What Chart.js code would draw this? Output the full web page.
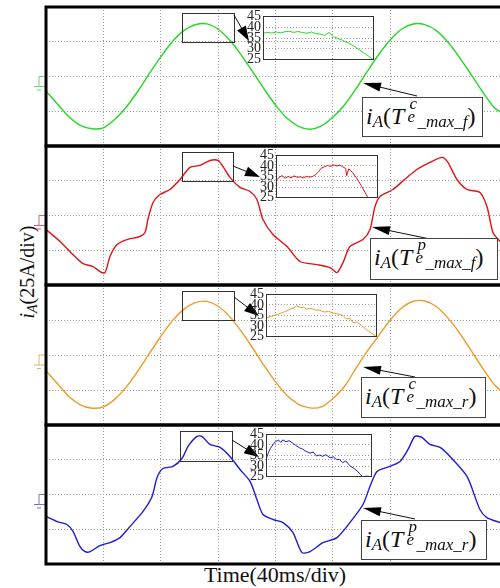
<!DOCTYPE html>
<html>
<head>
<meta charset="utf-8">
<script src="https://cdn.jsdelivr.net/npm/chart.js@4.4.1/dist/chart.umd.min.js"></script>
<style>
body{margin:0;background:#fff}
#fig{position:relative;width:500px;height:588px;overflow:hidden;font-family:"Liberation Serif","Times New Roman",serif}
#fig canvas{position:absolute}
.lab{position:absolute;box-sizing:border-box;border:1px solid #444;background:#fff;font-size:24px;line-height:24px;padding:6px 0 0 3px;white-space:nowrap;color:#111}
.lab .sb{font-size:17px;position:relative;top:3px}
.lab .stk{display:inline-block;position:relative;width:13px;height:0}
.lab .stk i{position:absolute;font-size:17px;line-height:17px}
.lab .stk .u{left:5px;bottom:12px}
.lab .stk .d{left:3px;bottom:-1px}
#ytitle{position:absolute;width:140px;height:24px;left:-43px;top:260px;text-align:center;font-size:20px;line-height:24px;transform:rotate(-90deg);color:#111}
#ytitle sub{font-size:14px;vertical-align:-3px}
#xtitle{position:absolute;left:150px;width:250px;top:563px;text-align:center;font-size:22px;line-height:24px;color:#111}
</style>
</head>
<body>
<div id="fig">
  <div id="ytitle"><i>i</i><sub><i>A</i></sub>(25A/div)</div>
  <div id="xtitle">Time(40ms/div)</div>
</div>
<script>
// time (ms) for the smooth traces, 40 ms per div
const tSmooth = [0, 8, 16, 24, 32, 40, 48, 56, 64, 72, 80, 88, 96, 104, 112, 120, 128, 136, 144, 152,
  160, 168, 176, 184, 192, 200, 208, 216, 224, 232, 240, 248, 256, 264, 272, 280, 288, 296, 304, 312, 316.4];

// iA with Te^c_max_f (A)
const iGreen = [-10.5, -19.8, -29.0, -35.2, -37.6, -36.9, -30.8, -21.9, -10.6, 2.0, 14.1, 25.0, 33.0, 37.2, 37.9, 34.0, 26.2, 15.6, 3.5, -9.0,
  -20.6, -30.1, -35.8, -37.9, -35.6, -29.2, -20.5, -8.9, 3.8, 16.0, 26.4, 34.2, 37.8, 37.3, 33.0, 24.8, 14.0, 1.8, -10.6, -22.0, -25.5];

// iA with Te^c_max_r (A)
const iOrange = [-11.2, -20.5, -29.6, -35.6, -38.0, -37.0, -31.5, -22.8, -11.5, 1.0, 13.2, 24.4, 32.6, 37.4, 38.3, 34.8, 27.4, 17.0, 5.0, -7.6,
  -19.2, -29.0, -35.2, -37.8, -37.0, -31.0, -22.5, -9.5, 3.0, 14.0, 25.2, 33.8, 38.4, 38.6, 34.6, 26.5, 16.0, 3.6, -9.0, -20.6, -24.8];

// iA with Te^p_max_f
const tRed = [0, 9.8, 18.8, 25.8, 32.8, 37.6, 41.1, 44.6, 49.5, 56.4, 65.5, 69, 71, 74.6, 79.4, 86.4, 93.4, 100.3, 107.3, 114.3,
  119.9, 123.3, 128.2, 135.2, 142.2, 147, 151.2, 158.2, 168, 177, 188.9, 197.9, 202.8, 207, 211.8, 220.9, 225.8, 229.3, 232.8, 241.8,
  251.6, 258.5, 267.6, 276, 280.1, 286.4, 293.4, 302.4, 307.3, 311.5, 316.4];
const iRed = [-10.1, -18.7, -28.1, -34.6, -36.7, -40.3, -41.1, -29.5, -20.9, -17.3, -15.1, -12.2, -2.9, 9.4, 15.1, 18.7, 25.9, 34.6, 36.0, 39.6,
  39.6, 35.3, 27.4, 20.2, 17.3, 11.5, -2.9, -13.7, -22.3, -33.1, -35.3, -37.5, -41.1, -33.9, -22.3, -17.3, -10.1, 6.5, 13.7, 18.7,
  27.4, 33.1, 38.2, 41.8, 38.2, 25.9, 18.7, 16.6, 6.5, -12.2, -18.7];

// iA with Te^p_max_r
const tBlue = [0, 7.7, 14.6, 18.8, 23.7, 27.2, 30.7, 37.6, 44.6, 51.6, 58.5, 67.6, 73.9, 77.4, 81.5, 88.5, 94.8, 99, 105.2, 108.7,
  114.3, 121.3, 128.2, 135.2, 142.2, 147, 151.2, 158.2, 165.2, 172.1, 178.4, 184, 193, 202.8, 211.8, 220.9, 225.8, 230.7, 239.7, 246.7,
  252.3, 257.1, 262, 267.6, 274.6, 281.5, 293.4, 302.4, 307.3, 316.4];
const iBlue = [-15.8, -19.5, -21.6, -26.6, -37.5, -41.1, -41.1, -36.7, -34.6, -31.0, -23.1, -12.2, -1.4, 12.2, 18.7, 20.2, 25.9, 34.6, 41.8, 41.8,
  36.0, 33.9, 27.4, 18.0, 9.4, -3.6, -14.4, -18.0, -20.2, -27.4, -41.8, -41.1, -34.6, -31.0, -20.2, -7.2, 5.8, 16.6, 20.2, 23.8,
  32.4, 41.8, 41.1, 36.0, 33.9, 27.4, 13.0, -10.8, -16.6, -20.2];

// zoomed peaks (inset time 0..1, current 25..45 A)
const zx1 = [0, .04, .08, .12, .16, .20, .24, .28, .32, .36, .40, .44, .48, .52, .56, .60, .64, .68, .72, .76, .80, .84, .88, .92, .96, 1];
const zy1 = [37.2, 37.6, 37.3, 37.8, 37.4, 37.9, 38.1, 37.6, 38.0, 37.5, 37.2, 37.8, 37.0, 36.8, 36.2, 37.6, 35.6, 34.8, 34.0, 33.0, 32.0, 30.8, 29.3, 28.0, 26.6, 25.0];
const zx2 = [0, .03, .06, .09, .12, .15, .18, .21, .24, .27, .30, .33, .36, .39, .42, .45, .48, .51, .54, .57, .60, .63, .66, .69, .70, .72, .74, .76, .79, .82, .85, .88, .91];
const zy2 = [33.0, 34.6, 35.4, 34.2, 35.0, 34.4, 35.3, 34.6, 34.9, 34.3, 35.1, 34.7, 35.0, 35.8, 37.2, 39.0, 39.6, 40.2, 39.8, 40.5, 40.0, 40.4, 39.6, 38.8, 35.4, 38.6, 37.8, 36.8, 34.8, 32.6, 30.2, 27.6, 25.0];
const zx3 = [0, .05, .10, .14, .18, .22, .25, .28, .31, .34, .37, .41, .45, .49, .53, .57, .61, .65, .70, .73, .76, .79, .83, .87, .92, .96, 1];
const zy3 = [33.9, 34.6, 35.4, 36.2, 37.0, 38.0, 38.6, 39.6, 38.8, 38.9, 38.0, 38.4, 37.6, 37.5, 36.6, 37.0, 36.1, 35.8, 35.0, 33.4, 33.8, 31.6, 31.9, 30.2, 28.0, 26.6, 25.0];
const zx4 = [0, .02, .04, .07, .09, .12, .14, .16, .19, .22, .26, .29, .32, .35, .38, .42, .45, .48, .51, .54, .57, .61, .64, .67, .70, .73, .76, .80, .84, .87, .90, .92, .96, 1];
const zy4 = [33.1, 36.0, 38.2, 40.4, 41.6, 42.3, 41.2, 42.4, 41.5, 42.0, 40.7, 39.6, 38.6, 38.0, 37.0, 36.1, 36.6, 34.8, 35.2, 34.6, 35.4, 33.9, 34.4, 33.2, 33.1, 31.6, 32.4, 30.1, 28.8, 27.6, 26.0, 25.0, 25.2, 25.0];

const insetTicks = [25, 30, 35, 40, 45];

// legend texts in the boxes
const labelSup = ['c', 'p', 'c', 'p'];
const labelTail = ['_max_f', '_max_f', '_max_r', '_max_r'];

const pairs = (xs, ys) => xs.map((x, k) => ({x: x, y: ys[k]}));

// panels, page coordinates
const panels = [
  {t: tSmooth, i: iGreen, zx: zx1, zy: zy1, color: '#26d626', mark: '#66dd66', top: 7, bottom: 146,
   box: [182, 13, 234, 42], arr: [234, 15, 249, 41], inset: [263, 14, 373, 62], lab: [362, 97, 483, 137], larr: [417, 96, 363, 83]},
  {t: tRed, i: iRed, zx: zx2, zy: zy2, color: '#e01414', mark: '#e06060', top: 146, bottom: 285,
   box: [182, 152, 233, 181], arr: [233, 166, 260, 177], inset: [276, 153, 377, 200], lab: [370, 238, 498, 280], larr: [430, 239, 372, 227]},
  {t: tSmooth, i: iOrange, zx: zx3, zy: zy3, color: '#f09a26', mark: '#e8b066', top: 285, bottom: 425,
   box: [182, 291, 234, 320], arr: [234, 297, 259, 316], inset: [266, 292, 376, 339], lab: [361, 377, 486, 418], larr: [415, 377, 363, 367]},
  {t: tBlue, i: iBlue, zx: zx4, zy: zy4, color: '#1c1cd2', mark: '#7474c4', top: 425, bottom: 564,
   box: [180, 431, 232, 461], arr: [232, 440, 259, 457], inset: [266, 432, 371, 479], lab: [361, 520, 487, 560], larr: [415, 519, 363, 508]}
];

const PAD = 4;
const fig = document.getElementById('fig');

function arrow(ctx, x1, y1, x2, y2, len, w) {
  const a = Math.atan2(y2 - y1, x2 - x1), c = Math.cos(a), s = Math.sin(a);
  ctx.beginPath();
  ctx.moveTo(x1, y1);
  ctx.lineTo(x2 - c * len * 0.7, y2 - s * len * 0.7);
  ctx.stroke();
  ctx.beginPath();
  ctx.moveTo(x2, y2);
  ctx.lineTo(x2 - c * len - s * w, y2 - s * len + c * w);
  ctx.lineTo(x2 - c * len + s * w, y2 - s * len - c * w);
  ctx.closePath();
  ctx.fill();
}

// frame, ground mark, zoom box and arrows
const scopePlugin = {
  id: 'scope',
  afterDraw(chart, args, o) {
    const ctx = chart.ctx, a = chart.chartArea, p = o.panel, dy = p.top - PAD;
    const y0 = chart.scales.y.getPixelForValue(0);
    ctx.save();
    ctx.lineWidth = 1;
    ctx.strokeStyle = p.mark;
    ctx.beginPath();
    ctx.moveTo(a.left, y0); ctx.lineTo(a.left - 7, y0); ctx.lineTo(a.left - 7, y0 + 10);
    ctx.moveTo(a.left - 12, y0 + 10); ctx.lineTo(a.left - 1, y0 + 10);
    ctx.moveTo(a.left - 9, y0 + 13.5); ctx.lineTo(a.left - 5, y0 + 13.5);
    ctx.stroke();

    ctx.strokeStyle = '#333';
    ctx.strokeRect(p.box[0] + 0.5, p.box[1] - dy + 0.5, p.box[2] - p.box[0], p.box[3] - p.box[1]);
    ctx.strokeStyle = '#111';
    ctx.fillStyle = '#000';
    arrow(ctx, p.arr[0], p.arr[1] - dy, p.arr[2], p.arr[3] - dy, 15, 5);
    arrow(ctx, p.larr[0], p.larr[1] - dy, p.larr[2], p.larr[3] - dy, 18, 4.5);

    ctx.strokeStyle = '#000';
    ctx.lineWidth = 3;
    ctx.beginPath();
    ctx.moveTo(a.right + 2, a.top); ctx.lineTo(a.left, a.top); ctx.lineTo(a.left, a.bottom); ctx.lineTo(a.right + 2, a.bottom);
    ctx.stroke();
    ctx.restore();
  }
};

const insetPlugin = {
  id: 'insetFrame',
  afterDraw(chart) {
    const ctx = chart.ctx, a = chart.chartArea;
    ctx.save();
    ctx.strokeStyle = '#333';
    ctx.lineWidth = 1;
    ctx.strokeRect(Math.round(a.left) + 0.5, Math.round(a.top) + 0.5, Math.round(a.right - a.left), Math.round(a.bottom - a.top));
    ctx.restore();
  }
};

const dotted = {color: '#9a9a9a', drawTicks: false, lineWidth: 1};

panels.forEach((p, n) => {
  const cv = document.createElement('canvas');
  cv.width = 500;
  cv.height = p.bottom - p.top + 2 * PAD;
  cv.style.left = '0px';
  cv.style.top = (p.top - PAD) + 'px';
  fig.appendChild(cv);

  new Chart(cv, {
    type: 'line',
    data: {datasets: [{data: pairs(p.t, p.i), borderColor: p.color, borderWidth: 1.4, pointRadius: 0, tension: 0.25}]},
    options: {
      responsive: false, animation: false,
      layout: {padding: {left: 46, right: 0, top: PAD, bottom: PAD}},
      plugins: {legend: {display: false}, tooltip: {enabled: false}, scope: {panel: p}},
      scales: {
        x: {type: 'linear', min: 0, max: 316.4, ticks: {display: false, stepSize: 40}, grid: dotted,
            border: {display: false, dash: [1, 2]}, afterFit: s => { s.height = 0; }},
        y: {min: -50, max: 50, ticks: {display: false, stepSize: 25}, grid: dotted,
            border: {display: false, dash: [1, 2]}, afterFit: s => { s.width = 0; }}
      }
    },
    plugins: [scopePlugin]
  });

  // inset with the zoomed peak
  const b = p.inset, AX = 26, IP = 8;
  const ic = document.createElement('canvas');
  ic.width = b[2] - b[0] + AX + 2;
  ic.height = b[3] - b[1] + 2 * IP;
  ic.style.left = (b[0] - AX) + 'px';
  ic.style.top = (b[1] - IP) + 'px';
  fig.appendChild(ic);

  new Chart(ic, {
    type: 'line',
    data: {datasets: [{data: pairs(p.zx, p.zy), borderColor: p.color, borderWidth: 1, pointRadius: 0, tension: 0}]},
    options: {
      responsive: false, animation: false,
      layout: {padding: {left: 0, right: 2, top: IP, bottom: IP}},
      plugins: {legend: {display: false}, tooltip: {enabled: false}},
      scales: {
        x: {type: 'linear', min: 0, max: 1, display: false},
        y: {min: insetTicks[0], max: insetTicks[insetTicks.length - 1],
            afterBuildTicks: s => { s.ticks = insetTicks.map(v => ({value: v})); },
            ticks: {padding: 2, autoSkip: false, color: '#222', font: {family: 'Liberation Serif', size: 14}},
            grid: dotted, border: {display: false, dash: [1, 2]},
            afterFit: s => { s.width = AX; }}
      }
    },
    plugins: [insetPlugin]
  });

  // legend box
  const l = p.lab;
  const d = document.createElement('div');
  d.className = 'lab';
  d.style.left = l[0] + 'px';
  d.style.top = l[1] + 'px';
  d.style.width = (l[2] - l[0]) + 'px';
  d.style.height = (l[3] - l[1]) + 'px';
  d.innerHTML = '<i>i</i><i class="sb">A</i>(<i>T</i><span class="stk"><i class="u">' + labelSup[n] +
    '</i><i class="d">e</i></span><i class="sb">' + labelTail[n] + '</i>)';
  fig.appendChild(d);
});
</script>
</body>
</html>
